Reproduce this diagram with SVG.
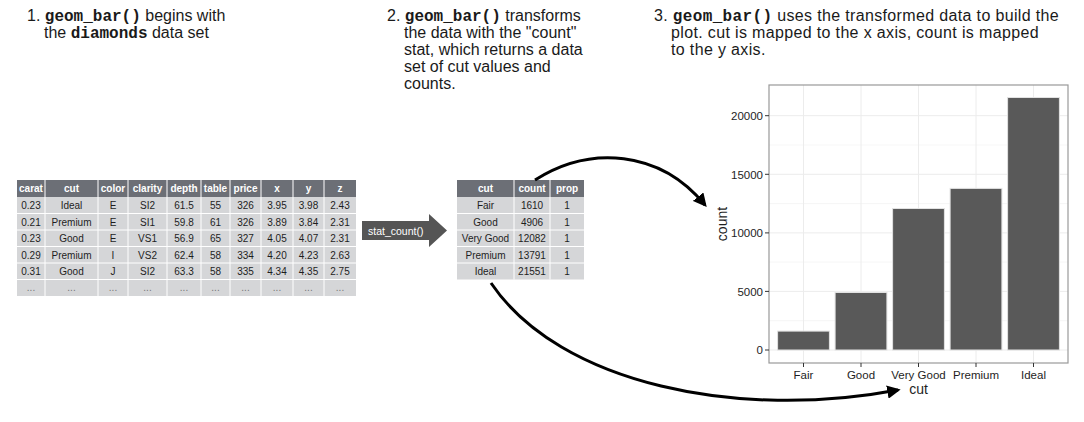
<svg xmlns="http://www.w3.org/2000/svg" width="1084" height="422" viewBox="0 0 1084 422">
<style>
.t{font-family:"Liberation Sans",Arial,sans-serif;font-size:16px;fill:#1a1a1a}
.t3{letter-spacing:0.35px}
.m{font-family:"Liberation Mono","DejaVu Sans Mono",monospace;font-weight:bold}
.hd{fill:#6c6f76}
.cl{fill:#d5d6d8}
.gl{stroke:#fff;stroke-width:1}
.th{font-family:"Liberation Sans",Arial,sans-serif;font-size:10px;font-weight:bold;fill:#fff;text-anchor:middle}
.td{font-family:"Liberation Sans",Arial,sans-serif;font-size:10px;fill:#1e1e1e;text-anchor:middle}
.el{fill:#777}
.ax{font-family:"Liberation Sans",Arial,sans-serif;font-size:11.5px;fill:#1e1e1e}
.at{font-family:"Liberation Sans",Arial,sans-serif;font-size:14px;fill:#1e1e1e;text-anchor:middle}
.grid{stroke:#ececec;stroke-width:1}
.bar{fill:#595959;stroke:#e2e2e2;stroke-width:1}
.tick{stroke:#333;stroke-width:1}
.con{fill:none;stroke:#000;stroke-width:3}
</style>
<defs>
<marker id="ah" viewBox="0 0 10 10" refX="8" refY="5" markerWidth="4.5" markerHeight="4.5" orient="auto" markerUnits="strokeWidth">
<path d="M0,0 L10,5 L0,10 z" fill="#000"/>
</marker>
</defs>

<g id="caption1">
<text class="t" x="27" y="21">1. <tspan class="m">geom_bar()</tspan> begins with</text>
<text class="t" x="44" y="38">the <tspan class="m">diamonds</tspan> data set</text>
</g>
<g id="caption2">
<text class="t" x="387" y="21">2. <tspan class="m">geom_bar()</tspan> transforms</text>
<text class="t" x="404" y="38">the data with the "count"</text>
<text class="t" x="404" y="55">stat, which returns a data</text>
<text class="t" x="404" y="72">set of cut values and</text>
<text class="t" x="404" y="89">counts.</text>
</g>
<g id="caption3">
<text class="t t3" x="654" y="21">3. <tspan class="m">geom_bar()</tspan> uses the transformed data to build the</text>
<text class="t t3" x="671" y="38">plot. cut is mapped to the x axis, count is mapped</text>
<text class="t t3" x="671" y="55">to the y axis.</text>
</g>

<g id="diamonds-table">
<rect class="hd" x="17" y="180" width="339" height="17"/>
<rect class="cl" x="17" y="197" width="339" height="99"/>
<g class="gl">
<line x1="45" y1="180" x2="45" y2="296"/><line x1="98" y1="180" x2="98" y2="296"/>
<line x1="128" y1="180" x2="128" y2="296"/><line x1="167" y1="180" x2="167" y2="296"/>
<line x1="201" y1="180" x2="201" y2="296"/><line x1="230" y1="180" x2="230" y2="296"/>
<line x1="261" y1="180" x2="261" y2="296"/><line x1="293" y1="180" x2="293" y2="296"/>
<line x1="324" y1="180" x2="324" y2="296"/>
<line x1="17" y1="213.5" x2="356" y2="213.5"/><line x1="17" y1="230" x2="356" y2="230"/>
<line x1="17" y1="246.5" x2="356" y2="246.5"/><line x1="17" y1="263" x2="356" y2="263"/>
<line x1="17" y1="279.5" x2="356" y2="279.5"/>
</g>
<g class="th">
<text x="31" y="192">carat</text><text x="71.5" y="192">cut</text><text x="113" y="192">color</text>
<text x="147.5" y="192">clarity</text><text x="184" y="192">depth</text><text x="215.5" y="192">table</text>
<text x="245.5" y="192">price</text><text x="277" y="192">x</text><text x="308.5" y="192">y</text><text x="340" y="192">z</text>
</g>
<g class="td">
<text x="31" y="209">0.23</text><text x="71.5" y="209">Ideal</text><text x="113" y="209">E</text><text x="147.5" y="209">SI2</text><text x="184" y="209">61.5</text><text x="215.5" y="209">55</text><text x="245.5" y="209">326</text><text x="277" y="209">3.95</text><text x="308.5" y="209">3.98</text><text x="340" y="209">2.43</text>
<text x="31" y="225.5">0.21</text><text x="71.5" y="225.5">Premium</text><text x="113" y="225.5">E</text><text x="147.5" y="225.5">SI1</text><text x="184" y="225.5">59.8</text><text x="215.5" y="225.5">61</text><text x="245.5" y="225.5">326</text><text x="277" y="225.5">3.89</text><text x="308.5" y="225.5">3.84</text><text x="340" y="225.5">2.31</text>
<text x="31" y="242">0.23</text><text x="71.5" y="242">Good</text><text x="113" y="242">E</text><text x="147.5" y="242">VS1</text><text x="184" y="242">56.9</text><text x="215.5" y="242">65</text><text x="245.5" y="242">327</text><text x="277" y="242">4.05</text><text x="308.5" y="242">4.07</text><text x="340" y="242">2.31</text>
<text x="31" y="258.5">0.29</text><text x="71.5" y="258.5">Premium</text><text x="113" y="258.5">I</text><text x="147.5" y="258.5">VS2</text><text x="184" y="258.5">62.4</text><text x="215.5" y="258.5">58</text><text x="245.5" y="258.5">334</text><text x="277" y="258.5">4.20</text><text x="308.5" y="258.5">4.23</text><text x="340" y="258.5">2.63</text>
<text x="31" y="275">0.31</text><text x="71.5" y="275">Good</text><text x="113" y="275">J</text><text x="147.5" y="275">SI2</text><text x="184" y="275">63.3</text><text x="215.5" y="275">58</text><text x="245.5" y="275">335</text><text x="277" y="275">4.34</text><text x="308.5" y="275">4.35</text><text x="340" y="275">2.75</text>
</g>
<g class="td el">
<text x="31" y="291">...</text><text x="71.5" y="291">...</text><text x="113" y="291">...</text><text x="147.5" y="291">...</text><text x="184" y="291">...</text><text x="215.5" y="291">...</text><text x="245.5" y="291">...</text><text x="277" y="291">...</text><text x="308.5" y="291">...</text><text x="340" y="291">...</text>
</g>
</g>

<g id="stat-count">
<path d="M362,221 H429 V214 L447,230.5 L429,247 V240 H362 Z" fill="#555"/>
<text x="368" y="234.5" font-family="Liberation Sans,Arial,sans-serif" font-size="10.5" fill="#fff">stat_count()</text>
</g>

<g id="count-table">
<rect class="hd" x="457" y="180" width="127" height="17"/>
<rect class="cl" x="457" y="197" width="127" height="82.5"/>
<g class="gl">
<line x1="514" y1="180" x2="514" y2="279.5"/><line x1="550" y1="180" x2="550" y2="279.5"/>
<line x1="457" y1="213.5" x2="584" y2="213.5"/><line x1="457" y1="230" x2="584" y2="230"/>
<line x1="457" y1="246.5" x2="584" y2="246.5"/><line x1="457" y1="263" x2="584" y2="263"/>
</g>
<g class="th">
<text x="485.5" y="192">cut</text><text x="532" y="192">count</text><text x="567" y="192">prop</text>
</g>
<g class="td">
<text x="485.5" y="209">Fair</text><text x="532" y="209">1610</text><text x="567" y="209">1</text>
<text x="485.5" y="225.5">Good</text><text x="532" y="225.5">4906</text><text x="567" y="225.5">1</text>
<text x="485.5" y="242">Very Good</text><text x="532" y="242">12082</text><text x="567" y="242">1</text>
<text x="485.5" y="258.5">Premium</text><text x="532" y="258.5">13791</text><text x="567" y="258.5">1</text>
<text x="485.5" y="275">Ideal</text><text x="532" y="275">21551</text><text x="567" y="275">1</text>
</g>
</g>

<g id="bar-chart">
<rect x="769" y="85" width="299" height="278" fill="#fff"/>
<g class="grid">
<line x1="769" y1="320.7" x2="1068" y2="320.7" stroke-width="0.5"/>
<line x1="769" y1="262.1" x2="1068" y2="262.1" stroke-width="0.5"/>
<line x1="769" y1="203.6" x2="1068" y2="203.6" stroke-width="0.5"/>
<line x1="769" y1="145" x2="1068" y2="145" stroke-width="0.5"/>
<line x1="769" y1="350" x2="1068" y2="350"/>
<line x1="769" y1="291.4" x2="1068" y2="291.4"/>
<line x1="769" y1="232.9" x2="1068" y2="232.9"/>
<line x1="769" y1="174.3" x2="1068" y2="174.3"/>
<line x1="769" y1="115.7" x2="1068" y2="115.7"/>
<line x1="803.5" y1="85" x2="803.5" y2="363"/>
<line x1="861" y1="85" x2="861" y2="363"/>
<line x1="918.5" y1="85" x2="918.5" y2="363"/>
<line x1="976" y1="85" x2="976" y2="363"/>
<line x1="1033.5" y1="85" x2="1033.5" y2="363"/>
</g>
<rect class="bar" x="777.6" y="331.1" width="51.8" height="18.9"/>
<rect class="bar" x="835.1" y="292.5" width="51.8" height="57.5"/>
<rect class="bar" x="892.6" y="208.5" width="51.8" height="141.5"/>
<rect class="bar" x="950.1" y="188.4" width="51.8" height="161.6"/>
<rect class="bar" x="1007.6" y="97.5" width="51.8" height="252.5"/>
<rect x="769" y="85" width="299" height="278" fill="none" stroke="#999" stroke-width="1.2"/>
<g class="tick">
<line x1="765" y1="350" x2="769" y2="350"/><line x1="765" y1="291.4" x2="769" y2="291.4"/>
<line x1="765" y1="232.9" x2="769" y2="232.9"/><line x1="765" y1="174.3" x2="769" y2="174.3"/>
<line x1="765" y1="115.7" x2="769" y2="115.7"/>
<line x1="803.5" y1="363" x2="803.5" y2="367"/><line x1="861" y1="363" x2="861" y2="367"/>
<line x1="918.5" y1="363" x2="918.5" y2="367"/><line x1="976" y1="363" x2="976" y2="367"/>
<line x1="1033.5" y1="363" x2="1033.5" y2="367"/>
</g>
<g class="ax" text-anchor="end">
<text x="763" y="354">0</text><text x="763" y="295.5">5000</text><text x="763" y="237">10000</text>
<text x="763" y="178.5">15000</text><text x="763" y="119.8">20000</text>
</g>
<g class="ax" text-anchor="middle">
<text x="803.5" y="379">Fair</text><text x="861" y="379">Good</text><text x="918.5" y="379">Very Good</text>
<text x="976" y="379">Premium</text><text x="1033.5" y="379">Ideal</text>
</g>
<text class="at" x="918.5" y="394">cut</text>
<text class="at" transform="translate(727,224) rotate(-90)">count</text>
</g>

<g id="connectors">
<path class="con" d="M535,180 C590,145 660,150 705,205" marker-end="url(#ah)"/>
<path class="con" d="M491,283 C560,385 740,420 898,390" marker-end="url(#ah)"/>
</g>
</svg>
